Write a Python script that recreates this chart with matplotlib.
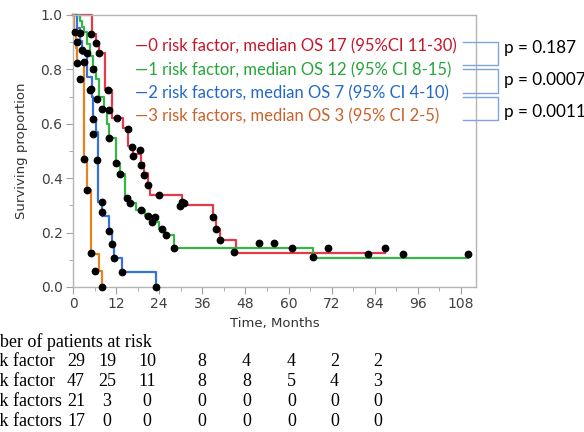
import matplotlib
matplotlib.use("Agg")
import matplotlib.pyplot as plt
import numpy as np

# Kaplan-Meier steps (drop time in months, survival after drop)
red_t = [5.2, 6.4, 7.3, 8.9, 10.8, 13.8, 15.4, 16.8, 18.9, 19.9, 20.8, 21.5,
         30.3, 38.9, 39.8, 41.0, 45.3]
red_s = [0.931, 0.897, 0.862, 0.724, 0.62, 0.585, 0.52, 0.49, 0.455, 0.42, 0.38,
         0.338, 0.30, 0.258, 0.215, 0.172, 0.126]
red_end = 86.9

green_t = [1.9, 2.4, 3.0, 3.8, 4.7, 5.7, 6.5, 7.3, 8.5, 9.6, 10.1, 11.9, 13.0,
           14.5, 15.9, 17.5, 20.0, 22.5, 24.0, 25.5, 28.1, 66.9]
green_s = [0.979, 0.957, 0.936, 0.894, 0.851, 0.808, 0.766, 0.70, 0.656, 0.60,
           0.546, 0.456, 0.415, 0.33, 0.307, 0.283, 0.26, 0.24, 0.215, 0.19,
           0.142, 0.108]
green_end = 110.0

blue_t = [1.0, 1.9, 2.5, 3.8, 5.2, 5.6, 6.3, 7.0, 8.2, 10.0, 10.9, 11.4, 13.7, 23.1]
blue_s = [0.952, 0.905, 0.857, 0.772, 0.70, 0.62, 0.57, 0.313, 0.262, 0.207,
          0.158, 0.105, 0.054, 0.0]
blue_end = 23.1

orange_t = [0.3, 0.8, 1.1, 3.2, 4.0, 5.0, 7.3, 8.0]
orange_s = [0.94, 0.88, 0.82, 0.47, 0.355, 0.12, 0.06, 0.0]
orange_end = 8.0

# black markers on the curves
red_dot_t = [5.0, 6.4, 7.2, 9.8, 12.2, 15.4, 16.3, 18.7, 16.8, 18.9, 19.9, 20.8,
             24.0, 29.8, 30.3, 30.9, 38.9, 39.8, 41.0, 44.8, 51.9, 56.0, 70.9, 86.9]
red_dot_s = [0.931, 0.897, 0.86, 0.723, 0.62, 0.582, 0.515, 0.503, 0.482, 0.448,
             0.411, 0.374, 0.338, 0.297, 0.313, 0.307, 0.258, 0.212, 0.172, 0.130,
             0.160, 0.160, 0.144, 0.144]
green_dot_t = [1.9, 3.8, 5.7, 5.0, 6.8, 8.0, 10.1, 10.1, 11.9, 13.0, 14.9, 15.9,
               18.9, 20.8, 21.9, 22.8, 24.9, 25.9, 28.0, 60.9, 66.9, 82.0, 92.0, 110.0]
green_dot_s = [0.935, 0.86, 0.80, 0.729, 0.692, 0.656, 0.65, 0.546, 0.456, 0.415,
               0.328, 0.307, 0.283, 0.26, 0.24, 0.256, 0.215, 0.19, 0.145, 0.144,
               0.109, 0.123, 0.123, 0.123]
blue_dot_t = [1.0, 2.4, 1.9, 3.1, 4.7, 5.5, 5.7, 6.8, 8.2, 8.0, 10.0, 10.9, 11.4,
              13.7, 23.1]
blue_dot_s = [0.90, 0.87, 0.763, 0.827, 0.723, 0.619, 0.564, 0.466, 0.313, 0.276,
              0.207, 0.158, 0.105, 0.054, 0.0]
orange_dot_t = [0.6, 1.0, 3.2, 4.0, 5.0, 6.2, 8.0]
orange_dot_s = [0.937, 0.824, 0.47, 0.356, 0.124, 0.059, 0.0]

legend_labels = ["\u20140 risk factor, median OS 17 (95%CI 11-30)",
                 "\u20141 risk factor, median OS 12 (95% CI 8-15)",
                 "\u20142 risk factors, median OS 7 (95% CI 4-10)",
                 "\u20143 risk factors, median OS 3 (95% CI 2-5)"]
p_values = ["p = 0.187", "p = 0.0007", "p = 0.0011"]

risk_times = [0, 12, 24, 36, 48, 60, 72, 84]
risk_labels = ["0 risk factor", "1 risk factor", "2 risk factors", "3 risk factors"]
risk_red = [29, 19, 10, 8, 4, 4, 2, 2]
risk_green = [47, 25, 11, 8, 8, 5, 4, 3]
risk_blue = [21, 3, 0, 0, 0, 0, 0, 0]
risk_orange = [17, 0, 0, 0, 0, 0, 0, 0]

line_cols = ["#e33b4b", "#37b648", "#3374d6", "#e8811f"]
text_cols = ["#c4172c", "#25a53a", "#2468c6", "#c9622b"]

W, H = 584, 432
fig = plt.figure(figsize=(W / 100, H / 100), dpi=100)
ax = fig.add_axes([73 / W, 1 - 287 / H, (476 - 73) / W, (287 - 15) / H])

groups = [(red_t, red_s, red_end), (green_t, green_s, green_end),
          (blue_t, blue_s, blue_end), (orange_t, orange_s, orange_end)]
for (t, s, end), c in zip(groups, line_cols):
    xs = [0] + list(t) + ([end] if end > t[-1] else [])
    ys = [1.0] + list(s) + ([s[-1]] if end > t[-1] else [])
    ax.step(xs, ys, where="post", color=c, lw=1.6, clip_on=False, zorder=2)

for dt, ds in [(red_dot_t, red_dot_s), (green_dot_t, green_dot_s),
               (blue_dot_t, blue_dot_s), (orange_dot_t, orange_dot_s)]:
    ax.plot(dt, ds, "o", color="black", ms=4.6, clip_on=False, zorder=3)

ax.set_xlim(0, 112.2)
ax.set_ylim(0, 1.0)
ax.set_xticks(np.arange(0, 109, 12))
ax.set_xticks(np.arange(6, 112, 12), minor=True)
ax.set_yticks(np.arange(0, 1.01, 0.2))
ax.set_yticks(np.arange(0.1, 1.0, 0.2), minor=True)
ax.yaxis.set_major_formatter(matplotlib.ticker.FormatStrFormatter("%.1f"))
for sp in ax.spines.values():
    sp.set_color("#b5b5b5")
    sp.set_linewidth(1.0)
ax.tick_params(which="both", color="#a0a0a0", labelcolor="#404040", labelsize=10)
ax.tick_params(which="major", length=5, pad=2.5)
ax.tick_params(which="minor", length=3)
ax.set_xlabel("Time, Months", fontsize=9.5, color="#333333", labelpad=4)
ax.set_ylabel("Surviving proportion", fontsize=9.5, color="#333333", labelpad=9)

# legend text inside the plot
leg_y = [46, 70, 93, 116]
for lab, c, y in zip(legend_labels, text_cols, leg_y):
    fig.text(135 / W, 1 - y / H, lab, color=c, family="Lato", fontsize=12,
             va="center", ha="left")

# brackets and p-values
bc = "#7ea5dc"
brackets = [(41.5, 65), (68.5, 93), (96.5, 120)]
for y0, y1 in brackets:
    fig.add_artist(plt.Line2D([463 / W, 498 / W, 498 / W, 463 / W],
                              [1 - y0 / H, 1 - y0 / H, 1 - y1 / H, 1 - y1 / H],
                              color=bc, lw=1.0))
p_y = [48, 80, 112]
for p, y in zip(p_values, p_y):
    fig.text(504 / W, 1 - y / H, p, color="black", family="Lato", fontsize=12.3,
             va="center", ha="left")

# number at risk table (left part runs off the canvas, as in the source image)
serif = "Liberation Serif"
fs = 13
fig.text(-36 / W, 1 - 342 / H, "Number of patients at risk", family=serif,
         fontsize=fs, va="center", ha="left")
row_y = [361, 381, 401, 421]
col_nudge = [3, -9, -12, 0, 1, 3, 3, 3]
for lab, vals, y in zip(risk_labels, [risk_red, risk_green, risk_blue, risk_orange], row_y):
    fig.text(-32 / W, 1 - y / H, lab, family=serif, fontsize=fs, va="center", ha="left")
    for t, v, dx in zip(risk_times, vals, col_nudge):
        xp = (ax.transData.transform((t, 0))[0] + dx) / W
        fig.text(xp, 1 - y / H, str(v), family=serif, fontsize=fs, va="center",
                 ha="center")

fig.savefig("out.png", dpi=100)
